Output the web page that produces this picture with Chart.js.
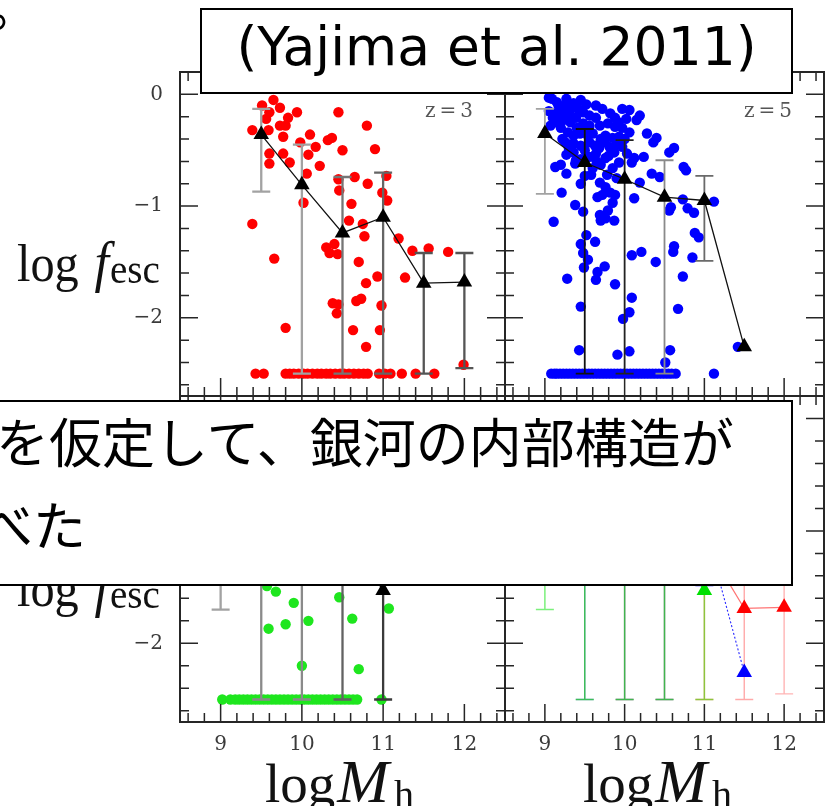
<!DOCTYPE html>
<html>
<head>
<meta charset="utf-8">
<script src="https://cdn.jsdelivr.net/npm/chart.js@4"></script>
<style>
  html, body { margin: 0; padding: 0; background: #fff; }
  body { width: 833px; height: 806px; overflow: hidden; position: relative; }
  canvas { position: absolute; left: 0; top: 0; z-index: 1; }
  .axt { position: absolute; font-family: "Liberation Serif", serif; line-height: 1; white-space: nowrap; color: #111; z-index: 2; }
  .ylab { left: 17px; font-size: 52px; transform: scaleX(0.93); transform-origin: 0 0; }
  .ylab i { font-size: 56px; margin-left: 4px; }
  .ylab .sub { font-size: 42px; vertical-align: -2px; margin-left: 1px; }
  .xlab { font-size: 55px; }
  .xlab i { font-size: 62px; margin-left: 2px; }
  .xlab .sub { font-size: 40px; vertical-align: -6px; margin-left: 5px; }
  .box { position: absolute; background: #fff; border: 2px solid #000; box-sizing: border-box; z-index: 5; }
  .txt { position: absolute; white-space: nowrap; z-index: 6; color: #000; }
  .jp { font-family: "Noto Sans CJK JP", sans-serif; font-size: 53px; line-height: 53px; }
</style>
</head>
<body>
<canvas id="pTL" width="833" height="806"></canvas>
<canvas id="pTR" width="833" height="806"></canvas>
<canvas id="pBL" width="833" height="806"></canvas>
<canvas id="pBR" width="833" height="806"></canvas>

<div class="axt ylab" style="top:234px">log <i>f</i><span class="sub">esc</span></div>
<div class="axt ylab" style="top:559px">log <i>f</i><span class="sub">esc</span></div>
<div class="axt xlab" style="left:265px;top:750px">log<i>M</i><span class="sub">h</span></div>
<div class="axt xlab" style="left:583px;top:750px">log<i>M</i><span class="sub">h</span></div>

<div class="txt jp" style="left:-13px;top:-22px">。</div>

<div class="box" style="left:200px;top:8px;width:593px;height:86px"></div>
<div class="txt" style="left:200px;top:20px;width:593px;text-align:center;font-family:'DejaVu Sans',sans-serif;font-size:53.5px;line-height:53px">(Yajima et al. 2011)</div>

<div class="box" style="left:-10px;top:400px;width:803px;height:186px"></div>
<div class="txt jp" style="left:-4px;top:414px">を仮定して、銀河の内部構造が</div>
<div class="txt jp" style="left:-20px;top:497px">べた</div>

<script>
// Axis ticks (log halo mass on x, log escape fraction on y)
const xMajor = [9, 10, 11, 12];
const xTickLabels = ['9', '10', '11', '12'];
const yMajor = [0, -1, -2];
const yTickLabels = ['0', '−1', '−2'];
const floorLog = -2.5;   // galaxies at the lower limit of log f_esc

// z = 3 sample: individual haloes [log Mh, log fesc]
const z3Dots = [
  [9.51,-0.10],[9.65,-0.05],[9.73,-0.12],[9.60,-0.16],[9.56,-0.22],[9.83,-0.21],[9.94,-0.16],
  [9.73,-0.28],[9.80,-0.28],[9.59,-0.32],[9.39,-0.32],[9.77,-0.38],[10.10,-0.36],[9.98,-0.43],
  [10.17,-0.47],[10.32,-0.41],[10.37,-0.39],[10.45,-0.16],[10.50,-0.50],[9.60,-0.53],[9.77,-0.53],
  [10.08,-0.54],[9.60,-0.62],[9.85,-0.61],[10.22,-0.64],[10.06,-0.71],[10.80,-0.28],[10.65,-0.74],
  [10.45,-0.76],[10.81,-0.80],[10.46,-0.86],[10.02,-0.97],[10.61,-0.98],[9.39,-1.16],[10.58,-1.13],
  [10.75,-1.16],[10.77,-1.27],[10.30,-1.37],[10.34,-1.42],[10.40,-1.34],[10.44,-1.43],[9.66,-1.47],
  [10.70,-1.50],[10.79,-1.69],[10.67,-1.85],[10.73,-1.83],[10.38,-1.87],[10.45,-1.88],[10.43,-1.96],
  [9.80,-2.09],[10.63,-2.11],[10.79,-2.26],[10.90,-0.49],[11.04,-0.73],[10.99,-0.88],[11.05,-0.95],
  [11.19,-1.29],[11.36,-1.40],[11.56,-1.38],[11.80,-1.41],[10.93,-1.63],[11.27,-1.64],[10.98,-1.89],
  [10.96,-2.11],[11.99,-2.42]
];
const z3Floor = [9.43,9.53,9.80,9.85,9.90,9.96,10.02,10.07,10.13,10.19,10.24,10.30,10.35,10.41,
  10.47,10.52,10.58,10.64,10.70,10.76,10.81,10.95,11.02,11.09,11.23,11.40,11.63];
// z = 3 binned medians with error ranges
const z3Bins = [9.5, 10, 10.5, 11, 11.5, 12];
const z3Median = [-0.36, -0.81, -1.24, -1.10, -1.69, -1.68];
const z3Upper = [-0.13, -0.45, -0.74, -0.70, -1.42, -1.42];
const z3Lower = [-0.87, -2.5, -2.5, -2.5, -2.5, -2.45];

// z = 5 sample
const z5Dots = [
  [9.05,-0.03],[9.09,-0.04],[9.15,-0.07],[9.27,-0.04],[9.17,-0.10],[9.36,-0.08],[9.52,-0.09],[9.64,-0.10],
  [9.11,-0.17],[9.21,-0.16],[9.32,-0.14],[9.42,-0.13],[9.48,-0.16],[9.56,-0.19],[9.64,-0.21],[9.72,-0.13],
  [9.82,-0.17],[9.88,-0.21],[9.97,-0.13],[10.06,-0.14],[10.15,-0.23],[10.19,-0.19],[9.15,-0.25],[9.23,-0.23],
  [9.32,-0.25],[9.39,-0.21],[9.48,-0.26],[9.56,-0.28],[9.69,-0.28],[9.79,-0.26],[9.88,-0.29],[9.97,-0.30],
  [10.06,-0.34],[9.20,-0.30],[9.29,-0.34],[9.36,-0.37],[9.44,-0.35],[9.54,-0.37],[9.76,-0.37],[9.85,-0.39],
  [9.93,-0.38],[9.26,-0.43],[9.36,-0.44],[9.45,-0.46],[9.56,-0.43],[9.63,-0.46],[9.75,-0.43],[9.81,-0.47],
  [9.97,-0.47],[10.03,-0.53],[9.27,-0.54],[9.36,-0.52],[9.39,-0.59],[9.56,-0.56],[9.64,-0.53],[9.76,-0.57],
  [9.87,-0.52],[9.93,-0.61],[10.09,-0.61],[9.13,-0.65],[9.20,-0.63],[9.27,-0.71],[9.38,-0.62],[9.60,-0.66],
  [9.70,-0.63],[9.85,-0.66],[9.69,-0.79],[9.76,-0.83],[9.72,-0.90],[9.82,-0.88],[9.85,-0.97],[9.79,-1.04],
  [9.69,-1.08],[9.76,-1.11],[9.48,-1.05],[9.38,-0.99],[9.21,-0.88],[9.11,-1.14],[10.28,-0.35],[10.36,-0.43],
  [10.40,-0.39],[10.56,-0.52],[10.62,-0.48],[10.12,-0.57],[10.24,-0.56],[10.34,-0.71],[10.44,-0.74],
  [10.74,-0.65],[10.77,-0.68],[10.19,-0.79],[10.73,-0.94],[10.79,-1.02],[10.87,-1.06],[10.58,-1.01],
  [10.56,-1.04],[9.66,-0.92],[9.88,-0.90],[10.12,-0.93],[9.70,-1.13],[9.87,-1.13],[9.52,-1.26],[9.45,-1.34],
  [9.63,-1.32],[9.48,-1.42],[9.54,-1.48],[9.49,-1.55],[9.75,-1.54],[9.66,-1.59],[9.64,-1.66],[9.28,-1.65],
  [9.88,-1.70],[10.09,-1.44],[10.21,-1.41],[10.39,-1.50],[10.61,-1.41],[10.62,-1.36],[10.73,-1.63],
  [10.85,-1.46],[10.09,-1.82],[10.06,-1.95],[9.98,-2.01],[10.67,-1.92],[9.45,-1.90],[9.43,-2.29],
  [9.91,-2.33],[10.06,-2.30],[10.57,-2.29],[10.51,-2.40],[11.42,-2.26],[10.88,-1.24],[10.93,-1.28],
  [11.12,-0.96],
  [9.05,-0.15],[9.07,-0.28],[9.10,-0.21],[9.18,-0.18],[9.25,-0.10],[9.45,-0.05],[9.30,-0.20],[9.40,-0.30],
  [9.50,-0.32],[9.60,-0.35],[9.70,-0.40],[9.65,-0.60],[9.50,-0.50],[9.45,-0.58],[9.30,-0.48],[9.22,-0.40],
  [9.80,-0.55],[9.90,-0.45],[10.00,-0.40],[9.92,-0.25],[10.02,-0.22],[9.68,-0.48],[9.58,-0.72],[9.78,-0.72],
  [9.90,-0.75],[9.50,-0.73],[9.45,-0.80]
];
const z5Floor = [9.08,9.12,9.15,9.19,9.23,9.27,9.31,9.35,9.39,9.43,9.47,9.51,9.55,9.59,9.63,9.67,9.71,
  9.75,9.79,9.83,9.87,9.91,9.95,9.99,10.03,10.07,10.11,10.15,10.19,10.23,10.27,10.31,10.35,10.39,10.43,
  10.47,10.51,10.55,10.59,10.64,11.12];
const z5Bins = [9, 9.5, 10, 10.5, 11, 11.5];
const z5Median = [-0.35, -0.61, -0.76, -0.92, -0.95, -2.26];
const z5Upper = [-0.13, -0.31, -0.41, -0.59, -0.73, null];
const z5Lower = [-0.89, -2.5, -2.5, -2.5, -1.49, null];

// third sample (lower left panel)
const zcDots = [
  [9.57,-1.49],[9.68,-1.54],[9.90,-1.64],[10.46,-1.59],[11.07,-1.69],[9.59,-1.87],[9.80,-1.83],
  [10.08,-1.80],[10.62,-1.78],[10.00,-2.20],[10.70,-2.23]
];
const zcFloor = [9.02,9.12,9.18,9.23,9.28,9.33,9.38,9.43,9.48,9.53,9.58,9.63,9.68,9.73,9.78,9.83,9.88,
  9.93,9.98,10.03,10.08,10.13,10.18,10.23,10.28,10.33,10.38,10.43,10.48,10.53,10.58,10.63,10.68,10.98];
const zcBins = [9, 9.5, 10, 10.5, 11];
const zcMedian = [-0.80, -1.00, -1.10, -1.00, -1.53];
const zcUpper = [-0.40, -0.45, -0.55, -0.50, -0.95];
const zcLower = [-1.70, -2.5, -2.5, -2.5, -2.5];

const withFloor = (dots, floor) =>
  dots.map(([x, y]) => ({ x, y })).concat(floor.map(x => ({ x, y: floorLog })));
const medianPoints = (bins, med) => bins.map((x, i) => ({ x, y: med[i] }));

// panel frame with inward ticks on every side, tick labels and redshift tag
const frameTicks = {
  id: 'frameTicks',
  afterDraw(chart, _args, o) {
    const { ctx, chartArea: a } = chart;
    const xs = chart.scales.x, ys = chart.scales.y;
    ctx.save();
    ctx.strokeStyle = '#262626';
    ctx.lineWidth = 1.5;
    ctx.beginPath();
    for (let k = 43; k <= 62; k++) {
      const px = xs.getPixelForValue(k / 5);
      const len = k % 5 === 0 ? 18 : 9;
      ctx.moveTo(px, a.bottom); ctx.lineTo(px, a.bottom - len);
      ctx.moveTo(px, a.top); ctx.lineTo(px, a.top + len);
    }
    for (let k = -13; k <= 0; k++) {
      const py = ys.getPixelForValue(k / 5);
      const len = k % 5 === 0 ? 18 : 9;
      ctx.moveTo(a.left, py); ctx.lineTo(a.left + len, py);
      ctx.moveTo(a.right, py); ctx.lineTo(a.right - len, py);
    }
    ctx.stroke();
    ctx.lineWidth = 2;
    ctx.strokeRect(a.left, a.top, a.right - a.left, a.bottom - a.top);

    ctx.fillStyle = '#3a3a3a';
    ctx.font = '20px "DejaVu Serif", serif';
    ctx.textBaseline = 'middle';
    if (o.yLabels) {
      ctx.textAlign = 'right';
      yMajor.forEach((v, i) => ctx.fillText(yTickLabels[i], a.left - 17, ys.getPixelForValue(v)));
    }
    if (o.xLabels) {
      ctx.textAlign = 'center';
      xMajor.forEach((v, i) => ctx.fillText(xTickLabels[i], xs.getPixelForValue(v), a.bottom + 23));
    }
    if (o.tag) {
      ctx.fillStyle = '#555';
      ctx.textAlign = 'right';
      ctx.fillText(o.tag, a.right - 32, a.top + 40);
    }
    ctx.restore();
  }
};

function drawBars(chart, groups) {
  const { ctx, chartArea: a } = chart;
  const xs = chart.scales.x, ys = chart.scales.y;
  ctx.save();
  ctx.beginPath();
  ctx.rect(a.left, a.top, a.right - a.left, a.bottom - a.top);
  ctx.clip();
  groups.forEach(g => {
    ctx.lineWidth = g.width;
    g.bins.forEach((bx, i) => {
      if (g.lo[i] == null) return;
      const px = xs.getPixelForValue(bx);
      const p1 = ys.getPixelForValue(g.hi[i]);
      const p2 = ys.getPixelForValue(g.lo[i]);
      ctx.strokeStyle = g.colors[i];
      ctx.beginPath();
      ctx.moveTo(px, p1); ctx.lineTo(px, p2);
      ctx.moveTo(px - g.cap, p1); ctx.lineTo(px + g.cap, p1);
      ctx.moveTo(px - g.cap, p2); ctx.lineTo(px + g.cap, p2);
      ctx.stroke();
    });
  });
  ctx.restore();
}

const errBars = {
  id: 'errBars',
  beforeDatasetsDraw(chart, _args, o) { if (o.after === -1) drawBars(chart, o.groups); },
  afterDatasetDraw(chart, args, o) { if (o.after === args.index) drawBars(chart, o.groups); }
};

function scatterSet(points, color) {
  return { type: 'scatter', data: points, order: 2, backgroundColor: color, borderWidth: 0,
           pointRadius: 5.2, pointHoverRadius: 5.2, showLine: false };
}
function medianSet(points, lineColor, markColor, extra) {
  return Object.assign({ type: 'line', data: points, order: 1, borderColor: lineColor, borderWidth: 1.3,
           tension: 0, fill: false, pointStyle: 'triangle', pointRadius: 9, pointHoverRadius: 9,
           pointBackgroundColor: markColor, pointBorderColor: markColor, pointBorderWidth: 0 }, extra || {});
}

function panel(id, padding, datasets, frame, bars) {
  return new Chart(document.getElementById(id), {
    type: 'scatter',
    data: { datasets },
    options: {
      responsive: false, animation: false, events: [],
      layout: { padding },
      scales: {
        x: { type: 'linear', min: 8.5, max: 12.5, display: false },
        y: { type: 'linear', min: -2.7, max: 0.2, display: false }
      },
      plugins: { legend: { display: false }, tooltip: { enabled: false }, frameTicks: frame, errBars: bars }
    },
    plugins: [frameTicks, errBars]
  });
}

const padTL = { left: 180, top: 72, right: 328, bottom: 410 };
const padTR = { left: 505, top: 72, right: 3, bottom: 410 };
const padBL = { left: 180, top: 396, right: 328, bottom: 84 };
const padBR = { left: 505, top: 396, right: 3, bottom: 84 };

panel('pTL', padTL,
  [scatterSet(withFloor(z3Dots, z3Floor), '#ff0000'), medianSet(medianPoints(z3Bins, z3Median), '#111', '#000')],
  { yLabels: true, tag: 'z\u2009=\u20093' },
  { after: 0, groups: [{ bins: z3Bins, lo: z3Lower, hi: z3Upper, width: 2.3, cap: 9,
    colors: ['#a2a2a2', '#a2a2a2', '#757575', '#656565', '#555', '#555'] }] });

panel('pTR', padTR,
  [scatterSet(withFloor(z5Dots, z5Floor), '#0000ff'), medianSet(medianPoints(z5Bins, z5Median), '#111', '#000')],
  { tag: 'z\u2009=\u20095' },
  { after: 0, groups: [{ bins: z5Bins, lo: z5Lower, hi: z5Upper, width: 1.8, cap: 9,
    colors: ['#a2a2a2', '#111', '#222', '#8a8a8a', '#6a6a6a', '#000'] }] });

panel('pBL', padBL,
  [scatterSet(withFloor(zcDots, zcFloor), '#1ee61e'), medianSet(medianPoints(zcBins, zcMedian), '#111', '#000')],
  { yLabels: true, xLabels: true },
  { after: 0, groups: [{ bins: zcBins, lo: zcLower, hi: zcUpper, width: 2.3, cap: 9,
    colors: ['#a2a2a2', '#8a8a8a', '#8a8a8a', '#626262', '#3a3a3a'] }] });

panel('pBR', padBR,
  [
    medianSet(medianPoints(zcBins, zcMedian), 'rgba(0,190,0,0.7)', '#00e000'),
    medianSet(medianPoints(z5Bins, z5Median), '#2a2aff', '#0000ff', { borderDash: [2, 2], borderWidth: 1.1 }),
    medianSet(medianPoints(z3Bins, z3Median), 'rgba(255,70,70,0.75)', '#ff0000')
  ],
  { xLabels: true },
  { after: -1, groups: [
    { bins: z5Bins, lo: z5Lower, hi: z5Upper, width: 1.4, cap: 9,
      colors: ['rgba(0,0,255,0.3)', 'rgba(0,0,255,0.3)', 'rgba(0,0,255,0.3)', 'rgba(0,0,255,0.3)', 'rgba(0,0,255,0.3)', 'rgba(0,0,255,0.3)'] },
    { bins: z3Bins, lo: z3Lower, hi: z3Upper, width: 1.4, cap: 9,
      colors: ['rgba(255,0,0,0.3)', 'rgba(255,0,0,0.3)', 'rgba(255,0,0,0.3)', 'rgba(255,0,0,0.3)', 'rgba(255,40,40,0.4)', 'rgba(255,40,40,0.35)'] },
    { bins: zcBins, lo: zcLower, hi: zcUpper, width: 1.5, cap: 9,
      colors: ['rgba(80,235,80,0.75)', 'rgba(40,190,60,0.85)', 'rgba(40,190,60,0.85)', 'rgba(40,190,60,0.85)', 'rgba(120,200,40,0.85)'] }
  ] });
</script>
</body>
</html>
